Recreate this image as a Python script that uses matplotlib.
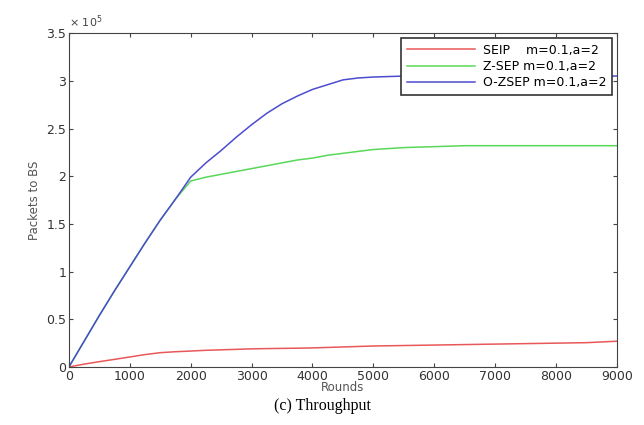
import matplotlib
matplotlib.use('Agg')
import matplotlib.pyplot as plt
from matplotlib.ticker import FuncFormatter

# Valores (pacotes x 1e5)
rounds = [0, 250, 500, 750, 1000, 1250, 1500, 1750, 2000, 2250, 2500, 2750,
          3000, 3250, 3500, 3750, 4000, 4250, 4500, 4750, 5000, 5500, 6000,
          6500, 7000, 7500, 8000, 8500, 9000]
sep = [0, 0.03, 0.056, 0.08, 0.105, 0.13, 0.15, 0.16, 0.167, 0.175, 0.18, 0.185,
       0.19, 0.193, 0.195, 0.197, 0.2, 0.205, 0.21, 0.215, 0.22, 0.225, 0.23,
       0.235, 0.24, 0.245, 0.25, 0.255, 0.27]
zsep = [0, 0.27, 0.54, 0.80, 1.05, 1.30, 1.54, 1.76, 1.95, 1.99, 2.02, 2.05,
        2.08, 2.11, 2.14, 2.17, 2.19, 2.22, 2.24, 2.26, 2.28, 2.30, 2.31,
        2.32, 2.32, 2.32, 2.32, 2.32, 2.32]
ozsep = [0, 0.27, 0.54, 0.80, 1.05, 1.30, 1.54, 1.76, 1.99, 2.14, 2.27, 2.41,
         2.54, 2.66, 2.76, 2.84, 2.91, 2.96, 3.01, 3.03, 3.04, 3.05, 3.05,
         3.05, 3.05, 3.05, 3.05, 3.05, 3.05]
labels = ['SEIP    m=0.1,a=2', 'Z-SEP m=0.1,a=2', 'O-ZSEP m=0.1,a=2']
xticks = list(range(0, 9001, 1000))
yticks = [0, 0.5e5, 1e5, 1.5e5, 2e5, 2.5e5, 3e5, 3.5e5]

fig = plt.figure(figsize=(6.44, 4.25), dpi=100)
ax = fig.add_axes([0.107, 0.1365, 0.851, 0.7855])

ax.plot(rounds, [v * 1e5 for v in sep], color='#e85858', lw=1.1, label=labels[0])
ax.plot(rounds, [v * 1e5 for v in zsep], color='#58d858', lw=1.1, label=labels[1])
ax.plot(rounds, [v * 1e5 for v in ozsep], color='#4c4cd0', lw=1.1, label=labels[2])

ax.set_xlim(0, 9000)
ax.set_ylim(0, 3.5e5)
ax.set_xticks(xticks)
ax.set_yticks(yticks)
ax.yaxis.set_major_formatter(FuncFormatter(lambda v, p: '%g' % (v / 1e5)))
ax.tick_params(direction='in', top=True, right=True, length=3, pad=2,
               labelsize=9, colors='#444444', labelcolor='#333333')
for s in ax.spines.values():
    s.set_color('#444444')
ax.text(0.0, 1.01, r'$\times\ 10^5$', transform=ax.transAxes, fontsize=8,
        color='#444444', ha='left', va='bottom')

ax.set_xlabel('Rounds', fontsize=8.5, color='#555555', labelpad=-1)
ax.set_ylabel('Packets to BS', fontsize=8.5, color='#555555', labelpad=4)

leg = ax.legend(loc='upper right', fontsize=9, fancybox=False, framealpha=1,
                edgecolor='#333333', borderaxespad=0.4, handlelength=5.5,
                labelspacing=0.25, borderpad=0.45, handletextpad=0.6)
leg.get_frame().set_linewidth(1.2)

fig.text(0.5, 0.045, '(c) Throughput', family='Liberation Serif', fontsize=11.5,
         ha='center', va='center')

plt.savefig('out.png', dpi=100)
